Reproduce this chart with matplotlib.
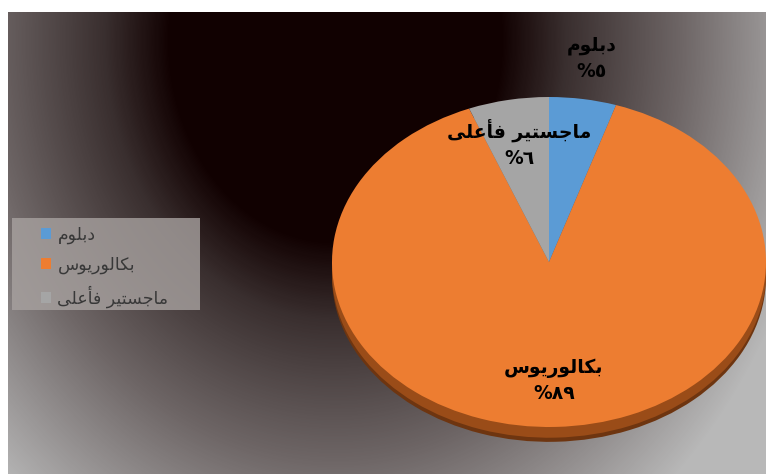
import numpy as np
import matplotlib.pyplot as plt
from matplotlib.colors import LinearSegmentedColormap
from matplotlib.patches import Rectangle

# data
categories = ['دبلوم', 'بكالوريوس', 'ماجستير فأعلى']
shares = [5, 89, 6]
pct_labels = ['%٥', '%٨٩', '%٦']

colors = ['#5b9bd5', '#ed7d31', '#a5a5a5']
side_colors = ['#2e5f8f', '#9a4c18', '#666666']

# simple arabic shaping (matplotlib has no complex text layout)
FORMS = {
    '\u0627': ('\uFE8D', '\uFE8E', None, None),
    '\u0623': ('\uFE83', '\uFE84', None, None),
    '\u0628': ('\uFE8F', '\uFE90', '\uFE91', '\uFE92'),
    '\u062A': ('\uFE95', '\uFE96', '\uFE97', '\uFE98'),
    '\u062C': ('\uFE9D', '\uFE9E', '\uFE9F', '\uFEA0'),
    '\u062F': ('\uFEA9', '\uFEAA', None, None),
    '\u0631': ('\uFEAD', '\uFEAE', None, None),
    '\u0633': ('\uFEB1', '\uFEB2', '\uFEB3', '\uFEB4'),
    '\u0639': ('\uFEC9', '\uFECA', '\uFECB', '\uFECC'),
    '\u0641': ('\uFED1', '\uFED2', '\uFED3', '\uFED4'),
    '\u0643': ('\uFED9', '\uFEDA', '\uFEDB', '\uFEDC'),
    '\u0644': ('\uFEDD', '\uFEDE', '\uFEDF', '\uFEE0'),
    '\u0645': ('\uFEE1', '\uFEE2', '\uFEE3', '\uFEE4'),
    '\u0648': ('\uFEED', '\uFEEE', None, None),
    '\u0649': ('\uFEEF', '\uFEF0', None, None),
    '\u064A': ('\uFEF1', '\uFEF2', '\uFEF3', '\uFEF4'),
}


def shape(s):
    out = []
    for i, ch in enumerate(s):
        if ch not in FORMS:
            out.append(ch)
            continue
        prev = s[i - 1] if i > 0 else ''
        nxt = s[i + 1] if i + 1 < len(s) else ''
        join_prev = prev in FORMS and FORMS[prev][2] is not None
        join_next = nxt in FORMS and FORMS[ch][2] is not None
        iso, fin, ini, med = FORMS[ch]
        if join_prev and join_next:
            out.append(med)
        elif join_prev:
            out.append(fin)
        elif join_next:
            out.append(ini)
        else:
            out.append(iso)
    return ''.join(out[::-1])


W, H = 766, 474
fig = plt.figure(figsize=(W / 100, H / 100), dpi=100)
fig.patch.set_facecolor('white')

# background gradient of the chart area
bg = fig.add_axes([8 / W, 0, (W - 8) / W, (H - 12) / H])
yy, xx = np.mgrid[12:H, 8:W]
r = np.hypot((xx - 335) / 165, (yy - 40) / 200)
t = np.clip((r - 1) / 2.0, 0, 1)
cmap = LinearSegmentedColormap.from_list(
    'bg', [(0, '#110101'), (0.2, '#3a2f2f'), (0.55, '#6e6666'), (1, '#b8b8b8')])
bg.imshow(t, cmap=cmap, vmin=0, vmax=1, aspect='auto', extent=(8, W, H, 12))
bg.set_xlim(8, W)
bg.set_ylim(H, 12)
bg.axis('off')

# pie, squashed to an ellipse
rx, ry = 217, 165
cx, cy = 549, 262
ax = fig.add_axes([(cx - rx) / W, (H - cy - 1.15 * ry) / H, 2 * rx / W, 2.15 * ry / H])
ax.pie(shares, colors=['#6e3510'] * 3, startangle=90, counterclock=False,
       center=(0, -0.09), wedgeprops=dict(linewidth=0))
ax.pie(shares, colors=side_colors, startangle=90, counterclock=False,
       center=(0, -0.065), wedgeprops=dict(linewidth=0))
wedges, _ = ax.pie(shares, colors=colors, startangle=90, counterclock=False,
                   wedgeprops=dict(linewidth=0))
ax.set_aspect('auto')
ax.set_xlim(-1, 1)
ax.set_ylim(-1.15, 1)
ax.axis('off')

dist = [1.25, 0.72, 0.73]
for w, name, pct, d in zip(wedges, categories, pct_labels, dist):
    a = np.deg2rad((w.theta1 + w.theta2) / 2)
    ax.text(d * np.cos(a), d * np.sin(a), shape(name) + '\n' + pct,
            ha='center', va='center', fontsize=13.5, fontweight='bold',
            color='black', linespacing=1.45, family='DejaVu Sans')

# legend
fig.patches.append(Rectangle((12 / W, 1 - 310 / H), 188 / W, 92 / H,
                             transform=fig.transFigure, facecolor='#a8a2a0',
                             alpha=0.8, edgecolor='none', zorder=2))
leg = fig.legend(wedges, [shape(c) for c in categories], loc='upper left',
                 bbox_to_anchor=(34 / W, 1 - 219 / H), frameon=False,
                 fontsize=12.5, handlelength=0.6, handleheight=0.6,
                 handletextpad=0.35, labelspacing=0.65, borderaxespad=0)
for txt in leg.get_texts():
    txt.set_color('#383838')

fig.savefig('out.png', dpi=100)
